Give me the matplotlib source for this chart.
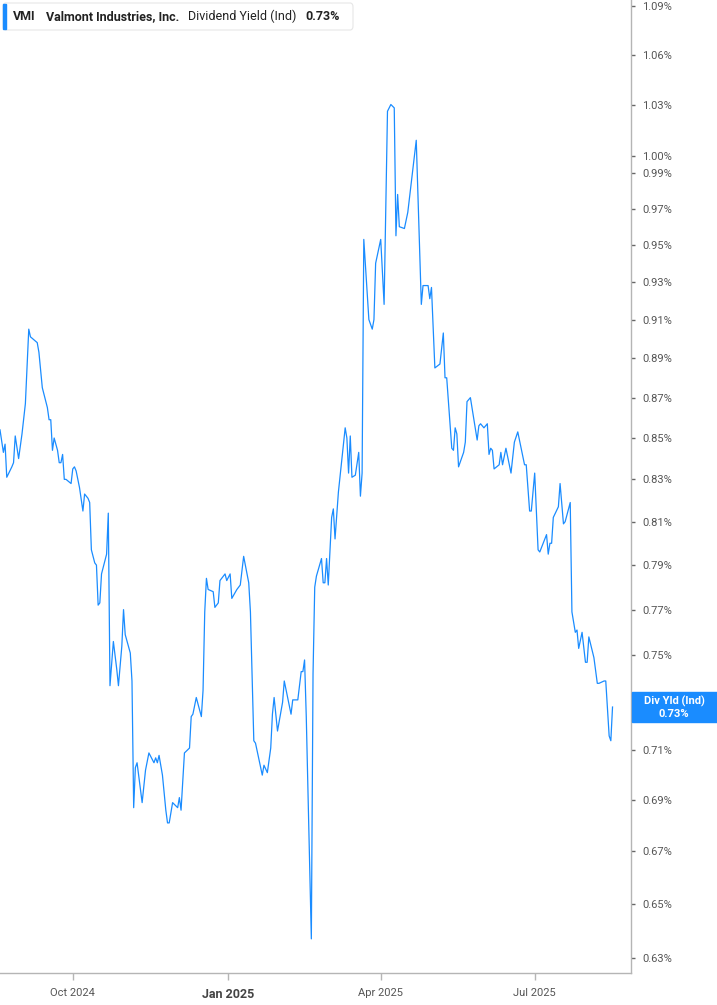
import numpy as np
import pandas as pd
import matplotlib
matplotlib.use("Agg")
import matplotlib.pyplot as plt
import matplotlib.dates as mdates
from matplotlib.patches import FancyBboxPatch, Rectangle
from matplotlib.ticker import FixedLocator, NullLocator

plt.rcParams['font.family'] = ['Roboto', 'DejaVu Sans']

# Valmont Industries dividend yield (%)
dates = [
    "2024-08-19", "2024-08-21", "2024-08-22", "2024-08-23", "2024-08-26", "2024-08-27", "2024-08-28", "2024-08-30",
    "2024-09-01", "2024-09-03", "2024-09-05", "2024-09-06", "2024-09-10", "2024-09-11", "2024-09-13", "2024-09-16",
    "2024-09-17", "2024-09-18", "2024-09-19", "2024-09-20", "2024-09-22", "2024-09-23", "2024-09-24", "2024-09-25",
    "2024-09-26", "2024-09-27", "2024-09-30", "2024-10-01", "2024-10-02", "2024-10-03", "2024-10-05", "2024-10-07",
    "2024-10-08", "2024-10-10", "2024-10-11", "2024-10-12", "2024-10-14", "2024-10-15", "2024-10-16", "2024-10-17",
    "2024-10-18", "2024-10-21", "2024-10-22", "2024-10-23", "2024-10-25", "2024-10-27", "2024-10-28", "2024-10-30",
    "2024-10-31", "2024-11-01", "2024-11-04", "2024-11-05", "2024-11-06", "2024-11-07", "2024-11-08", "2024-11-11",
    "2024-11-13", "2024-11-15", "2024-11-18", "2024-11-19", "2024-11-20", "2024-11-21", "2024-11-23", "2024-11-25",
    "2024-11-26", "2024-11-27", "2024-11-29", "2024-12-02", "2024-12-03", "2024-12-04", "2024-12-06", "2024-12-09",
    "2024-12-10", "2024-12-11", "2024-12-13", "2024-12-16", "2024-12-17", "2024-12-18", "2024-12-19", "2024-12-20",
    "2024-12-23", "2024-12-24", "2024-12-26", "2024-12-27", "2024-12-30", "2024-12-31", "2025-01-02", "2025-01-03",
    "2025-01-06", "2025-01-07", "2025-01-08", "2025-01-10", "2025-01-13", "2025-01-14", "2025-01-16", "2025-01-17",
    "2025-01-21", "2025-01-22", "2025-01-24", "2025-01-26", "2025-01-27", "2025-01-28", "2025-01-30", "2025-02-02",
    "2025-02-03", "2025-02-07", "2025-02-08", "2025-02-11", "2025-02-13", "2025-02-14", "2025-02-15", "2025-02-16",
    "2025-02-19", "2025-02-20", "2025-02-21", "2025-02-22", "2025-02-25", "2025-02-26", "2025-02-27", "2025-02-28",
    "2025-03-01", "2025-03-03", "2025-03-04", "2025-03-05", "2025-03-07", "2025-03-11", "2025-03-12", "2025-03-13",
    "2025-03-14", "2025-03-15", "2025-03-17", "2025-03-19", "2025-03-20", "2025-03-21", "2025-03-22", "2025-03-25",
    "2025-03-27", "2025-03-28", "2025-03-29", "2025-04-01", "2025-04-03", "2025-04-05", "2025-04-07", "2025-04-09",
    "2025-04-10", "2025-04-11", "2025-04-12", "2025-04-15", "2025-04-17", "2025-04-22", "2025-04-25", "2025-04-26",
    "2025-04-29", "2025-04-30", "2025-05-01", "2025-05-03", "2025-05-06", "2025-05-08", "2025-05-09", "2025-05-10",
    "2025-05-13", "2025-05-14", "2025-05-15", "2025-05-16", "2025-05-17", "2025-05-20", "2025-05-21", "2025-05-22",
    "2025-05-24", "2025-05-28", "2025-05-29", "2025-05-30", "2025-06-01", "2025-06-03", "2025-06-04", "2025-06-05",
    "2025-06-06", "2025-06-07", "2025-06-10", "2025-06-11", "2025-06-12", "2025-06-14", "2025-06-17", "2025-06-19",
    "2025-06-21", "2025-06-25", "2025-06-26", "2025-06-28", "2025-06-29", "2025-07-01", "2025-07-03", "2025-07-04",
    "2025-07-08", "2025-07-09", "2025-07-10", "2025-07-11", "2025-07-12", "2025-07-15", "2025-07-16", "2025-07-18",
    "2025-07-19", "2025-07-22", "2025-07-23", "2025-07-25", "2025-07-26", "2025-07-27", "2025-07-29", "2025-07-31",
    "2025-08-01", "2025-08-02", "2025-08-05", "2025-08-07", "2025-08-08", "2025-08-11", "2025-08-12", "2025-08-14",
    "2025-08-15", "2025-08-16",
]
div_yield = [
    0.854, 0.843, 0.847, 0.831, 0.836, 0.838, 0.851, 0.840,
    0.852, 0.867, 0.905, 0.901, 0.898, 0.893, 0.875, 0.865,
    0.859, 0.859, 0.844, 0.850, 0.844, 0.838, 0.838, 0.842,
    0.830, 0.830, 0.828, 0.835, 0.836, 0.834, 0.826, 0.815,
    0.823, 0.821, 0.819, 0.797, 0.791, 0.790, 0.772, 0.773,
    0.786, 0.795, 0.814, 0.737, 0.756, 0.744, 0.737, 0.754,
    0.770, 0.759, 0.751, 0.739, 0.687, 0.703, 0.705, 0.689,
    0.702, 0.709, 0.705, 0.707, 0.705, 0.708, 0.700, 0.686,
    0.681, 0.681, 0.689, 0.687, 0.691, 0.686, 0.709, 0.711,
    0.724, 0.725, 0.732, 0.724, 0.735, 0.769, 0.784, 0.779,
    0.778, 0.771, 0.773, 0.783, 0.786, 0.783, 0.786, 0.775,
    0.779, 0.780, 0.781, 0.794, 0.782, 0.769, 0.714, 0.713,
    0.700, 0.704, 0.701, 0.711, 0.725, 0.732, 0.718, 0.730,
    0.739, 0.725, 0.731, 0.731, 0.743, 0.743, 0.748, 0.724,
    0.637, 0.742, 0.780, 0.785, 0.793, 0.782, 0.782, 0.793,
    0.781, 0.812, 0.816, 0.802, 0.824, 0.855, 0.850, 0.833,
    0.851, 0.831, 0.832, 0.843, 0.822, 0.833, 0.953, 0.910,
    0.905, 0.910, 0.940, 0.953, 0.918, 1.026, 1.030, 1.028,
    0.955, 0.978, 0.960, 0.959, 0.968, 1.009, 0.918, 0.928,
    0.928, 0.921, 0.927, 0.885, 0.887, 0.903, 0.880, 0.880,
    0.845, 0.844, 0.855, 0.852, 0.836, 0.843, 0.848, 0.868,
    0.870, 0.849, 0.856, 0.857, 0.855, 0.857, 0.842, 0.845,
    0.844, 0.835, 0.837, 0.843, 0.837, 0.845, 0.833, 0.848,
    0.853, 0.837, 0.837, 0.815, 0.815, 0.833, 0.797, 0.796,
    0.804, 0.795, 0.800, 0.800, 0.812, 0.817, 0.828, 0.809,
    0.810, 0.819, 0.769, 0.760, 0.761, 0.753, 0.760, 0.747,
    0.747, 0.758, 0.749, 0.738, 0.738, 0.739, 0.739, 0.716,
    0.714, 0.728,
]

y_ticks = [0.63, 0.65, 0.67, 0.69, 0.71, 0.75, 0.77, 0.79, 0.81, 0.83, 0.85, 0.87,
           0.89, 0.91, 0.93, 0.95, 0.97, 0.99, 1.00, 1.03, 1.06, 1.09]
x_ticks = ["2024-10-01", "2025-01-01", "2025-04-01", "2025-07-01"]
x_labels = ["Oct 2024", "Jan 2025", "Apr 2025", "Jul 2025"]

ticker = "VMI"
company = "Valmont Industries, Inc."
metric = "Dividend Yield (Ind)"
last_label = "Div Yld (Ind)"

x = pd.to_datetime(dates)
blue = "#1a8cff"
W, H = 717, 1005

fig = plt.figure(figsize=(W / 100, H / 100), dpi=100)
ax = fig.add_axes([0, 32 / H, 631 / W, 973 / H])

ax.plot(x, div_yield, color=blue, lw=0.9)

ax.set_yscale("log")
ax.set_ylim(0.6246, 1.0939)
ax.set_xlim(pd.Timestamp("2024-08-19"), pd.Timestamp("2025-08-26 22:00"))

ax.yaxis.tick_right()
ax.yaxis.set_major_locator(FixedLocator(y_ticks))
ax.yaxis.set_minor_locator(NullLocator())
ax.set_yticklabels([f"{v:.2f}%" for v in y_ticks])
ax.tick_params(axis="y", which="major", length=3, width=1, color="#666666",
               labelsize=8, labelcolor="#555555", pad=5)

ax.set_xticks(pd.to_datetime(x_ticks))
ax.set_xticklabels(x_labels)
ax.tick_params(axis="x", length=5, width=1, color="#b5b5b5", labelsize=8,
               labelcolor="#555555", pad=6)
for lbl in ax.get_xticklabels():
    if lbl.get_text() == "Jan 2025":
        lbl.set_fontweight("bold")
        lbl.set_fontsize(9)
        lbl.set_color("#444444")

for side in ["top", "left"]:
    ax.spines[side].set_visible(False)
for side in ["right", "bottom"]:
    ax.spines[side].set_color("#b5b5b5")
    ax.spines[side].set_linewidth(1)

# header box
hdr = FancyBboxPatch((3 / W, 1 - 30 / H), 350 / W, 27 / H,
                     boxstyle="round,pad=0,rounding_size=0.004",
                     transform=fig.transFigure, facecolor="white",
                     edgecolor="#e6e6e6", lw=0.8)
fig.patches.append(hdr)
fig.patches.append(Rectangle((3 / W, 1 - 29 / H), 3 / W, 25 / H,
                             transform=fig.transFigure, color=blue))
ty = 1 - 16.5 / H
fig.text(13 / W, ty, ticker, fontsize=9, fontweight="bold", color="#222222", va="center")
fig.text(46 / W, ty, company, fontsize=9, fontweight="bold", color="#222222", va="center")
fig.text(188 / W, ty, metric, fontsize=9, color="#222222", va="center")
fig.text(305 / W, ty, f"{div_yield[-1]:.2f}%", fontsize=9, fontweight="bold",
         color="#222222", va="center")

# last value label on the axis
fig.canvas.draw()
yp = ax.transData.transform((mdates.date2num(x[-1]), div_yield[-1]))[1]
fig.patches.append(Rectangle((632 / W, (yp - 15) / H), (W - 632) / W, 30 / H,
                             transform=fig.transFigure, color=blue))
fig.text(674 / W, (yp + 6) / H, last_label, fontsize=8, fontweight="bold",
         color="white", ha="center", va="center")
fig.text(674 / W, (yp - 7) / H, f"{div_yield[-1]:.2f}%", fontsize=8, fontweight="bold",
         color="white", ha="center", va="center")

fig.savefig("out.png", dpi=100)
